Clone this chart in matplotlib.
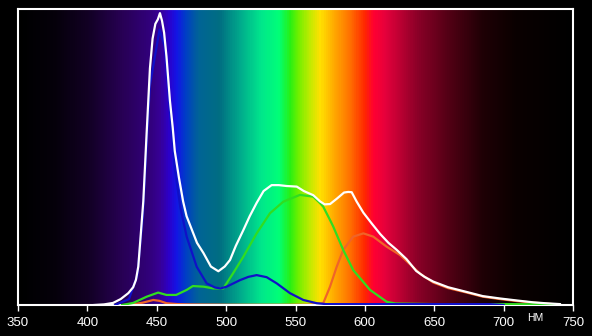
import matplotlib
matplotlib.use('Agg')
import matplotlib.pyplot as plt
import numpy as np
from matplotlib.colors import LinearSegmentedColormap

# wavelength, nm
white_nm = [405, 412, 418.5, 424, 429.5, 433, 435, 436.7, 438.5, 440.3, 442.7, 445.1, 447, 449, 450.8,
            452.3, 453.8, 455.3, 457, 459.5, 461.5, 463, 466, 469, 471.5,
            474, 479, 483.6, 489, 494.4, 499, 502.8, 507, 512.4, 517, 522, 527, 532.8, 538, 543.6, 550.9,
            556, 562.8, 567.7, 571, 574.9, 580, 585, 588, 590.5, 594, 598.9, 605, 611, 617, 623, 630, 637,
            643, 649.3, 660, 673.4, 685, 697.4, 710, 721.4, 730, 740.6]
white_val = [0, 0.2, 0.7, 2, 4, 6, 8.5, 13, 24, 35, 58, 80, 90, 95, 96.5,
             98.6, 96, 92, 84, 69, 60, 52, 43, 35, 30,
             27, 21, 17.6, 13, 11.4, 13, 15.2, 20, 25.3, 30, 34.5, 38.5, 40.5, 40.5, 40.2, 40,
             38.5, 37.1, 35, 34, 34.1, 36, 38, 38.2, 38.1, 35, 31.2, 27.5, 24, 21, 18.6, 15.5, 11.5,
             9.5, 7.9, 6, 4.4, 3, 2.2, 1.5, 0.9, 0.6, 0.3]

blue_nm = [420, 430, 436, 440, 445, 452, 456, 459.5, 463, 467, 471.6, 478.8, 486, 492, 496, 500.4,
           510, 516, 522, 529.2, 536.5, 546, 555.6, 565.3, 572, 600, 650, 690, 700]
blue_val = [0, 2, 10, 30, 74, 93, 87, 65, 46, 33, 23, 12.9, 7.3, 5.9, 5.6, 6.2,
            8.4, 9.5, 10.1, 9.4, 7.3, 4.0, 1.7, 0.6, 0.3, 0.3, 0.3, 0.3, 0]

green_nm = [425, 433, 442.7, 451, 457, 464, 471.6, 476, 483.6, 490.8, 498, 505, 512.4, 522, 531.6,
            541.2, 553.2, 562.8, 567.7, 570, 574.9, 577.2, 584.4, 591.6, 603.7, 615.7, 622, 650, 700, 740]
green_val = [0, 0.7, 2.8, 4.2, 3.4, 3.4, 5.1, 6.4, 6.2, 5.6, 5.6, 10.7, 16.3, 24.2, 31,
             34.9, 37.2, 36.6, 34.4, 33.2, 28.7, 26.5, 18.6, 11.8, 5.1, 1.1, 0.5, 0.3, 0.3, 0.2]

red_nm = [430, 440, 447.5, 452, 457, 465, 475, 500, 560, 570, 574.9, 579.7, 584.4, 591.6, 598.9, 606,
          615.7, 625.3, 632, 640, 649.3, 660, 673.4, 685, 697.4, 710, 721.4, 730, 738]
red_val = [0, 0.8, 1.7, 1.4, 0.6, 0.3, 0.2, 0.1, 0.1, 0.6, 6.2, 12.9, 18.6, 23.1, 24.2, 23.1,
           19.7, 16.9, 14, 10.5, 7.6, 5.7, 4.2, 2.8, 2.0, 1.3, 0.8, 0.5, 0.2]

tick_nm = [350, 400, 450, 500, 550, 600, 650, 700, 750]

# background spectrum colours (nm, rgb)
spectrum = [(350, (0, 0, 0)), (375, (5, 0, 10)), (400, (18, 0, 36)), (425, (40, 0, 85)),
            (445, (50, 0, 125)), (452, (55, 0, 150)), (458, (45, 0, 200)), (464, (20, 20, 230)),
            (470, (0, 60, 200)), (480, (0, 100, 150)), (495, (0, 110, 130)), (510, (0, 170, 140)),
            (525, (0, 230, 140)), (538, (0, 255, 120)), (546, (40, 240, 20)), (552, (110, 240, 0)),
            (560, (190, 235, 0)), (568, (255, 225, 0)), (578, (255, 170, 0)), (590, (255, 110, 0)),
            (600, (255, 40, 0)), (607, (255, 0, 50)), (615, (230, 0, 60)), (638, (140, 0, 40)),
            (662, (80, 0, 20)), (686, (30, 0, 5)), (710, (10, 0, 0)), (750, (0, 0, 0))]

cmap = LinearSegmentedColormap.from_list(
    'spec', [((nm - 350) / 400, tuple(c / 255 for c in rgb)) for nm, rgb in spectrum])

fig = plt.figure(figsize=(5.92, 3.36), dpi=100, facecolor='black')
ax = fig.add_axes([18 / 592, 31 / 336, 555 / 592, 296 / 336])
ax.set_facecolor('black')

grad = np.linspace(0, 1, 800).reshape(1, -1)
ax.imshow(grad, cmap=cmap, aspect='auto', extent=[350, 750, 0, 100], zorder=0)

ax.plot(red_nm, red_val, color='#f06428', lw=1.6, zorder=2)
ax.plot(green_nm, green_val, color='#30dd20', lw=1.6, zorder=3)
ax.plot(blue_nm, blue_val, color='#1010c8', lw=1.6, zorder=4)
ax.plot(white_nm, white_val, color='white', lw=1.6, zorder=5)

ax.set_xlim(350, 750)
ax.set_ylim(0, 100)
ax.set_yticks([])
ax.set_xticks(tick_nm)
ax.set_xticklabels([str(t) for t in tick_nm])
ax.tick_params(axis='x', colors='white', length=4, width=1, direction='out', pad=5, labelsize=9.5)
for lbl in ax.get_xticklabels():
    lbl.set_family(['Liberation Sans', 'DejaVu Sans'])
for sp in ax.spines.values():
    sp.set_color('white')
    sp.set_linewidth(1.5)

ax.text(723, -4.4, 'НМ', color='white', fontsize=7.5, ha='center', va='center',
        family=['Liberation Sans', 'DejaVu Sans'], clip_on=False)

fig.savefig('out.png', dpi=100, facecolor='black')
